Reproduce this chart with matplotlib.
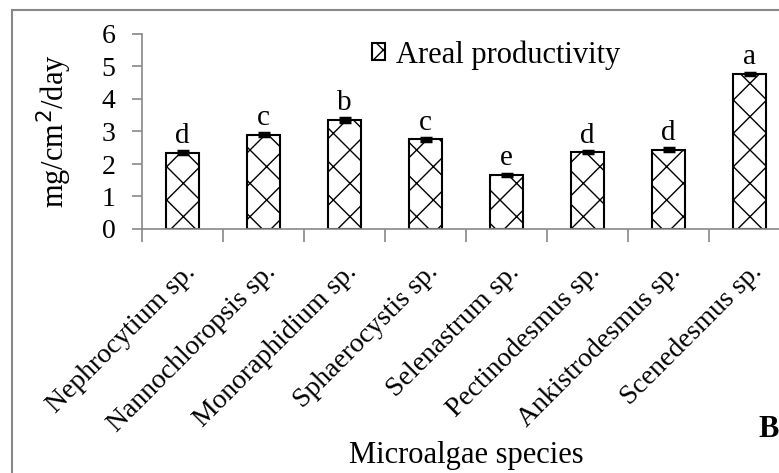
import numpy as np
import matplotlib
matplotlib.use('Agg')
import matplotlib.pyplot as plt
from matplotlib.patches import Rectangle
from matplotlib.legend_handler import HandlerPatch

plt.rcParams['font.family'] = ['Liberation Serif', 'DejaVu Serif']
plt.rcParams['hatch.linewidth'] = 1.0

especies = ['Nephrocytium sp.', 'Nannochloropsis sp.', 'Monoraphidium sp.',
            'Sphaerocystis sp.', 'Selenastrum sp.', 'Pectinodesmus sp.',
            'Ankistrodesmus sp.', 'Scenedesmus sp.']
produtividade = [2.35, 2.90, 3.35, 2.76, 1.66, 2.36, 2.44, 4.77]
erro = [0.05, 0.05, 0.05, 0.04, 0.04, 0.03, 0.04, 0.04]
letras = ['d', 'c', 'b', 'c', 'e', 'd', 'd', 'a']

fig = plt.figure(figsize=(7.79, 4.73), dpi=100)
ax = fig.add_axes([142/779, 1-229/473, 648/779, (229-34)/473])

x = np.arange(len(especies))
barras = ax.bar(x, produtividade, width=0.40, color='white', edgecolor='black',
                linewidth=1.5, hatch='x', label='Areal productivity')
ax.errorbar(x, produtividade, yerr=erro, fmt='none', ecolor='black',
            elinewidth=1.5, capsize=4, capthick=2.5)

for xi, v, l in zip(x, produtividade, letras):
    ax.text(xi, v + 0.3, l, ha='center', va='baseline', fontsize=21)

ax.set_xlim(-0.5, 7.5)
ax.set_ylim(0, 6)
ax.set_yticks(range(7))
ax.tick_params(axis='y', labelsize=20, length=7, width=1.2, color='#888888', pad=12)

ax.set_xticks(np.arange(-0.5, 7.5, 1))
ax.set_xticklabels([])
ax.tick_params(axis='x', which='major', length=9, width=1.2, color='#888888')
ax.set_xticks(x, minor=True)
ax.set_xticklabels(especies, minor=True, rotation=45, ha='right',
                   rotation_mode='anchor', fontsize=20)
ax.tick_params(axis='x', which='minor', length=0, pad=22)

for s in ['top', 'right']:
    ax.spines[s].set_visible(False)
for s in ['left', 'bottom']:
    ax.spines[s].set_color('#888888')
    ax.spines[s].set_linewidth(1.2)

ax.set_ylabel('mg/cm$^2$/day', fontsize=22, labelpad=20)
ax.set_xlabel('Microalgae species', fontsize=22, labelpad=3)

# quadradinho pequeno na legenda
def quadrado(legend, orig_handle, xdescent, ydescent, width, height, fontsize):
    lado = 8
    return Rectangle((xdescent + (width - lado) / 2, -ydescent + (height - lado) / 2),
                     lado, lado)

leg = ax.legend(loc='upper left', bbox_to_anchor=(0.312, 1.11), frameon=False,
                fontsize=22, handlelength=0.45, handleheight=0.45, handletextpad=0.35,
                handler_map={type(barras.patches[0]): HandlerPatch(patch_func=quadrado)})

fig.patches.append(Rectangle((12/779, -0.1), 1.2, 1.1 - 10/473,
                             transform=fig.transFigure, fill=False,
                             edgecolor='#888888', linewidth=1.5))
fig.text(758/779, 1-437/473, 'B', fontsize=22, fontweight='bold')

plt.savefig('out.png', dpi=100)
